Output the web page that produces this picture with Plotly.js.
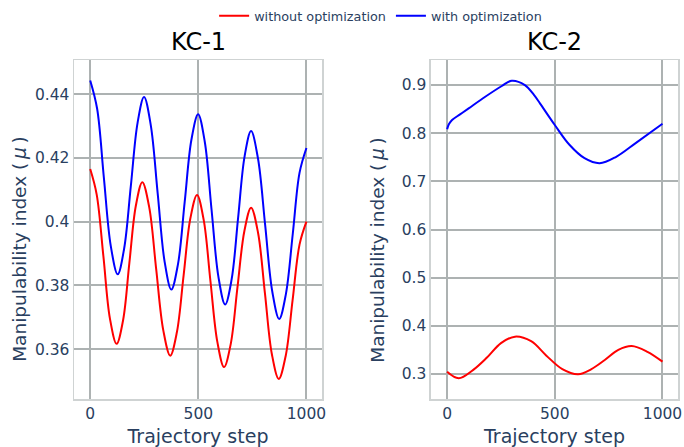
<!DOCTYPE html>
<html>
<head>
<meta charset="utf-8">
<script src="https://cdn.plot.ly/plotly-3.0.1.min.js"></script>
<style>html,body{margin:0;padding:0;background:#fff;}#chart{width:684px;height:447px;}</style>
</head>
<body>
<div id="chart"></div>
<script>
// KC-1 data
const kc1RedX = [0, 30, 61, 91, 122, 152, 181, 211, 241, 273, 305, 338, 370, 401, 432, 463, 494, 525, 556, 588, 619, 650, 681, 713, 744, 776, 808, 840, 872, 904, 936, 968, 1000];
const kc1RedY = [0.4165, 0.4085, 0.3891, 0.3697, 0.3617, 0.3691, 0.387, 0.405, 0.4124, 0.4045, 0.3852, 0.3659, 0.358, 0.3654, 0.3832, 0.401, 0.4084, 0.4005, 0.3814, 0.3623, 0.3544, 0.3617, 0.3794, 0.3971, 0.4044, 0.3966, 0.3776, 0.3585, 0.3507, 0.3579, 0.3754, 0.3928, 0.400];
const kc1BlueX = [0, 32, 63, 95, 127, 157, 188, 219, 249, 280, 312, 344, 375, 406, 437, 468, 499, 530, 561, 593, 624, 654, 684, 714, 744, 776, 809, 842, 874, 905, 937, 968, 1000];
const kc1BlueY = [0.4443, 0.4354, 0.4139, 0.3924, 0.3835, 0.3916, 0.4113, 0.431, 0.4391, 0.4303, 0.4089, 0.3875, 0.3787, 0.3867, 0.4062, 0.4257, 0.4337, 0.425, 0.4039, 0.3827, 0.374, 0.3819, 0.4012, 0.4205, 0.4284, 0.4198, 0.399, 0.3781, 0.3695, 0.3773, 0.3963, 0.4153, 0.4231];
// KC-2 data
const kc2RedX = [0, 54, 120, 185, 250, 315, 390, 461, 535, 608, 670, 732, 795, 857, 930, 1000];
const kc2RedY = [0.3045, 0.291, 0.308, 0.334, 0.364, 0.3775, 0.368, 0.338, 0.310, 0.2994, 0.310, 0.329, 0.350, 0.358, 0.346, 0.3256];
const kc2BlueX = [0, 8, 23, 60, 100, 177, 254, 300, 361, 404, 431, 500, 569, 638, 708, 785, 877, 1000];
const kc2BlueY = [0.808, 0.8185, 0.8273, 0.839, 0.8516, 0.8757, 0.898, 0.909, 0.900, 0.879, 0.862, 0.817, 0.7754, 0.748, 0.7375, 0.751, 0.780, 0.8195];

const seriesNames = ['without optimization', 'with optimization'];
const subplotTitles = ['KC-1', 'KC-2'];
const yTitle = 'Manipulability index (\u2009<i>μ</i>\u2009)';
const xTitle = 'Trajectory step';
const xTickVals = [0, 500, 1000];

const RED = '#ff0000', BLUE = '#0000ff';
const traces = [
  {x: kc1RedX, y: kc1RedY, name: seriesNames[0], legendgroup: 'a', xaxis: 'x', yaxis: 'y', mode: 'lines', line: {color: RED, width: 2, shape: 'spline'}},
  {x: kc1BlueX, y: kc1BlueY, name: seriesNames[1], legendgroup: 'b', xaxis: 'x', yaxis: 'y', mode: 'lines', line: {color: BLUE, width: 2, shape: 'spline'}},
  {x: kc2RedX, y: kc2RedY, name: seriesNames[0], legendgroup: 'a', showlegend: false, xaxis: 'x2', yaxis: 'y2', mode: 'lines', line: {color: RED, width: 2, shape: 'spline'}},
  {x: kc2BlueX, y: kc2BlueY, name: seriesNames[1], legendgroup: 'b', showlegend: false, xaxis: 'x2', yaxis: 'y2', mode: 'lines', line: {color: BLUE, width: 2, shape: 'spline'}}
];

const GRID = '#adb2b2', FRAME = '#cfd3d3', TXT = '#2a3f5f';
function xax(domain, anchor) {
  return {domain: domain, anchor: anchor, range: [-75, 1072], tickvals: xTickVals,
    showgrid: true, gridcolor: GRID, gridwidth: 2, zeroline: false,
    showline: true, mirror: true, linecolor: FRAME, linewidth: 1.5, ticks: '',
    tickfont: {size: 15.5, color: TXT},
    title: {text: xTitle, font: {size: 19, color: TXT}, standoff: 9}};
}
function yax(domain, anchor, range, dtick) {
  return {domain: domain, anchor: anchor, range: range, dtick: dtick,
    showgrid: true, gridcolor: GRID, gridwidth: 2, zeroline: false,
    showline: true, mirror: true, linecolor: FRAME, linewidth: 1.5, ticks: '',
    tickfont: {size: 15.5, color: TXT}};
}

const layout = {
  width: 684, height: 447,
  margin: {l: 74, r: 6, t: 60, b: 48, autoexpand: false},
  paper_bgcolor: '#fff', plot_bgcolor: '#fff',
  font: {family: 'DejaVu Sans', color: TXT},
  showlegend: true,
  legend: {orientation: 'h', x: 0.232, xanchor: 'left', y: 1.13, yanchor: 'middle', font: {size: 12.8, color: TXT}, bgcolor: 'rgba(0,0,0,0)'},
  xaxis: xax([0, 0.4106], 'y'),
  yaxis: yax([0, 1], 'x', [0.3444, 0.4507], 0.02),
  xaxis2: xax([0.591, 1], 'y2'),
  yaxis2: yax([0, 1], 'x2', [0.248, 0.952], 0.1),
  annotations: [
    {text: subplotTitles[0], xref: 'paper', yref: 'paper', x: 0.2053, y: 1.053, xanchor: 'center', yanchor: 'middle', showarrow: false, font: {size: 24, color: '#000'}},
    {text: subplotTitles[1], xref: 'paper', yref: 'paper', x: 0.7955, y: 1.053, xanchor: 'center', yanchor: 'middle', showarrow: false, font: {size: 24, color: '#000'}},
    {text: yTitle, xref: 'paper', yref: 'paper', x: -0.0894, y: 0.44, xanchor: 'center', yanchor: 'middle', textangle: -90, showarrow: false, font: {size: 18.5, color: TXT}},
    {text: yTitle, xref: 'paper', yref: 'paper', x: 0.5033, y: 0.44, xanchor: 'center', yanchor: 'middle', textangle: -90, showarrow: false, font: {size: 18.5, color: TXT}}
  ]
};

Plotly.newPlot('chart', traces, layout, {displayModeBar: false, staticPlot: true});
</script>
</body>
</html>
